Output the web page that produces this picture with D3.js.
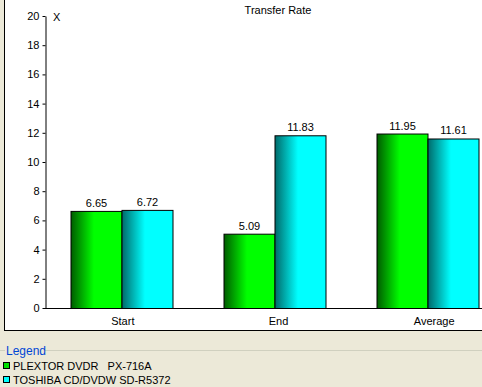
<!DOCTYPE html>
<html>
<head>
<meta charset="utf-8">
<script src="https://d3js.org/d3.v7.min.js"></script>
<style>
  body { margin: 0; background: #ece9d8; }
  svg { display: block; }
  text { font-family: "Liberation Sans", Arial, sans-serif; font-size: 11px; white-space: pre; }
</style>
</head>
<body>
<div id="chart"></div>
<script>
// data
const categories = ["Start", "End", "Average"];
const seriesNames = ["PLEXTOR DVDR   PX-716A", "TOSHIBA CD/DVDW SD-R5372"];
const plextor = [6.65, 5.09, 11.95];
const toshiba = [6.72, 11.83, 11.61];
const yTicks = [0, 2, 4, 6, 8, 10, 12, 14, 16, 18, 20];

const W = 482, H = 387;
const svg = d3.select("#chart").append("svg")
  .attr("width", W).attr("height", H);

// gradients for the bars
const defs = svg.append("defs");
const grads = [["gGreen", "#005c00", "#00ff00"], ["gCyan", "#006a6a", "#00ffff"]];
grads.forEach(g => {
  const lg = defs.append("linearGradient").attr("id", g[0])
    .attr("x1", "0%").attr("x2", "100%").attr("y1", "0%").attr("y2", "0%");
  lg.append("stop").attr("offset", "0%").attr("stop-color", g[1]);
  lg.append("stop").attr("offset", "45%").attr("stop-color", g[2]);
  lg.append("stop").attr("offset", "100%").attr("stop-color", g[2]);
});
const legendColors = ["#00e000", "#00ffff"];

// white plot panel
svg.append("rect").attr("x", 4).attr("y", 0).attr("width", W - 4).attr("height", 330)
  .attr("fill", "#fff");
svg.append("line").attr("x1", 4.5).attr("x2", 4.5).attr("y1", 0).attr("y2", 331)
  .attr("stroke", "#000");
svg.append("line").attr("x1", 4).attr("x2", W).attr("y1", 330.5).attr("y2", 330.5)
  .attr("stroke", "#000");

// scales
const y = d3.scaleLinear().domain([0, 20]).range([308, 16]);
const x0 = d3.scaleBand().domain(categories).range([45, 504])
  .paddingInner(1 / 3).paddingOuter(1 / 6);
const x1 = d3.scaleBand().domain([0, 1]).range([0, x0.bandwidth()]);
const xLabel = d3.scaleBand().domain(categories).range([45, 512]);

// y axis
const yAxis = svg.append("g").attr("transform", "translate(45.5,0)")
  .call(d3.axisLeft(y).tickValues(yTicks).tickSize(3).tickSizeOuter(0).tickPadding(3));
yAxis.select(".domain").attr("stroke", "#000");
yAxis.selectAll("text").attr("fill", "#000").style("font-size", "11px")
  .style("font-family", "'Liberation Sans', Arial, sans-serif");

// x baseline
svg.append("line").attr("x1", 45).attr("x2", W).attr("y1", y(0) + 0.5).attr("y2", y(0) + 0.5)
  .attr("stroke", "#000");

// bars
const series = [plextor, toshiba];
series.forEach((vals, si) => {
  const g = svg.append("g");
  g.selectAll("rect").data(vals).join("rect")
    .attr("x", (d, i) => x0(categories[i]) + x1(si) + 0.5)
    .attr("y", d => y(d) + 0.5)
    .attr("width", x1.bandwidth())
    .attr("height", d => y(0) - y(d))
    .attr("fill", `url(#${grads[si][0]})`)
    .attr("stroke", "#000");
  g.selectAll("text").data(vals).join("text")
    .attr("x", (d, i) => x0(categories[i]) + x1(si) + x1.bandwidth() / 2 + 0.5)
    .attr("y", d => y(d) - 4)
    .attr("text-anchor", "middle")
    .text(d => d.toFixed(2));
});

// category labels
svg.append("g").selectAll("text").data(categories).join("text")
  .attr("x", d => xLabel(d) + xLabel.bandwidth() / 2)
  .attr("y", 325)
  .attr("text-anchor", "middle")
  .text(d => d);

// title and unit
svg.append("text").attr("x", 278).attr("y", 14).attr("text-anchor", "middle")
  .text("Transfer Rate");
svg.append("text").attr("x", 53).attr("y", 21).text("X");

// legend
svg.append("line").attr("x1", 0).attr("x2", 5).attr("y1", 350.5).attr("y2", 350.5)
  .attr("stroke", "#d0d0bf");
svg.append("line").attr("x1", 45).attr("x2", W).attr("y1", 350.5).attr("y2", 350.5)
  .attr("stroke", "#d0d0bf");
svg.append("text").attr("x", 6).attr("y", 355).attr("fill", "#0046d5")
  .style("font-size", "12px").text("Legend");
const leg = svg.append("g").selectAll("g").data(seriesNames).join("g")
  .attr("transform", (d, i) => `translate(0,${362 + i * 14})`);
leg.append("rect").attr("x", 3.5).attr("y", 0.5).attr("width", 6).attr("height", 6)
  .attr("fill", (d, i) => legendColors[i]).attr("stroke", "#000");
leg.append("text").attr("x", 13).attr("y", 7.5).text(d => d);
</script>
</body>
</html>
